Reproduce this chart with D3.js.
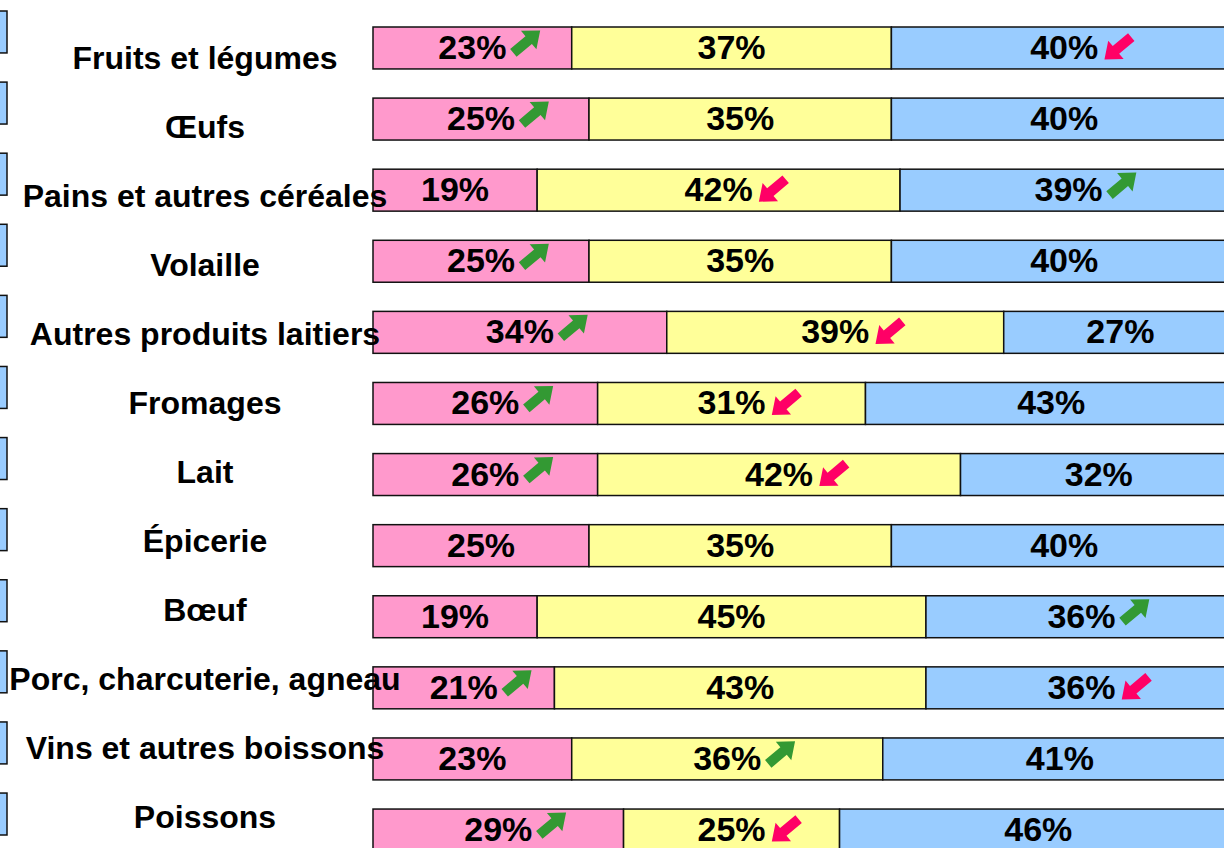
<!DOCTYPE html>
<html>
<head>
<meta charset="utf-8">
<script src="https://cdn.jsdelivr.net/npm/d3@7"></script>
<style>
  html, body { margin: 0; padding: 0; background: #fff; overflow: hidden; }
  svg { display: block; }
  text { font-family: "Liberation Sans", Arial, sans-serif; font-weight: bold; fill: #000; }
</style>
</head>
<body>
<svg id="chart" width="1224" height="848"></svg>
<script>
// ---- Data ----
const categories = [
  "Fruits et légumes", "Œufs", "Pains et autres céréales", "Volaille",
  "Autres produits laitiers", "Fromages", "Lait", "Épicerie", "Bœuf",
  "Porc, charcuterie, agneau", "Vins et autres boissons", "Poissons"
];
const seriesA = [23, 25, 19, 25, 34, 26, 26, 25, 19, 21, 23, 29]; // pink
const seriesB = [37, 35, 42, 35, 39, 31, 42, 35, 45, 43, 36, 25]; // yellow
const seriesC = [40, 40, 39, 40, 27, 43, 32, 40, 36, 36, 41, 46]; // blue
// trend arrows: [category index, segment index (0 pink,1 yellow,2 blue), direction]
const arrowCat = [0, 0, 1, 2, 2, 3, 4, 4, 5, 5, 6, 6, 8, 9, 9, 10, 11, 11];
const arrowSeg = [0, 2, 0, 1, 2, 0, 0, 1, 0, 1, 0, 1, 2, 0, 2, 1, 0, 1];
const arrowDir = ["up","down","up","down","up","up","up","down","up","down","up","down","up","up","down","up","up","down"];

// ---- Setup ----
const svg = d3.select("#chart");
const colors = ["#FF99CC", "#FFFF99", "#99CCFF"];
const series = [seriesA, seriesB, seriesC];

const x = d3.scaleLinear().domain([0, 100]).range([373, 1237]);
const yBar = d3.scaleBand().domain(categories).range([27, 851]).paddingInner(0.41).paddingOuter(0);
const yBox = d3.scaleBand().domain(categories).range([11, 835]).paddingInner(0.41).paddingOuter(0);
const yLab = d3.scalePoint().domain(categories).range([69, 828]);

// stacked data
const rows = categories.map((c, i) => {
  let acc = 0;
  return series.map((s, k) => {
    const seg = { cat: c, i, k, v: s[i], x0: acc, x1: acc + s[i] };
    acc += s[i];
    return seg;
  });
});

// left partial boxes (cut-off blue bars)
svg.append("g").selectAll("rect").data(categories).join("rect")
  .attr("x", -4).attr("y", d => yBox(d))
  .attr("width", 11).attr("height", yBox.bandwidth())
  .attr("fill", "#99CCFF").attr("stroke", "#111").attr("stroke-width", 1.5);

// bars
const segs = rows.flat();
svg.append("g").selectAll("rect").data(segs).join("rect")
  .attr("x", d => x(d.x0)).attr("y", d => yBar(d.cat))
  .attr("width", d => x(d.x1) - x(d.x0)).attr("height", yBar.bandwidth())
  .attr("fill", d => colors[d.k]).attr("stroke", "#111").attr("stroke-width", 1.5);

// category labels (drawn over the bars)
svg.append("g").selectAll("text").data(categories).join("text")
  .attr("x", 205).attr("y", d => yLab(d))
  .attr("text-anchor", "middle")
  .style("font-size", "32px")
  .text(d => d);

// value labels
const labG = svg.append("g");
const labels = labG.selectAll("text").data(segs).join("text")
  .attr("x", d => (x(d.x0) + x(d.x1)) / 2)
  .attr("y", d => yBar(d.cat) + yBar.bandwidth() / 2 + 11)
  .attr("text-anchor", "middle")
  .style("font-size", "34px")
  .text(d => d.v + "%");

// arrows
const arrowPath = "M-17,-5 L3,-5 L3,-12 L18,0 L3,12 L3,5 L-17,5 Z";
const arrowData = arrowCat.map((c, j) => ({ c, s: arrowSeg[j], dir: arrowDir[j] }));
svg.append("g").selectAll("path").data(arrowData).join("path")
  .attr("d", arrowPath)
  .attr("fill", d => d.dir === "up" ? "#339933" : "#FF0066")
  .attr("transform", d => {
    const seg = rows[d.c][d.s];
    const cx = (x(seg.x0) + x(seg.x1)) / 2;
    const node = labels.filter(l => l.i === d.c && l.k === d.s).node();
    const w = node.getComputedTextLength();
    const ax = cx + w / 2 + 6 + 14;
    const ay = yBar(categories[d.c]) + yBar.bandwidth() / 2 + (d.dir === "up" ? -6 : 0);
    const rot = d.dir === "up" ? -40 : 140;
    return `translate(${ax},${ay}) rotate(${rot})`;
  });
</script>
</body>
</html>
